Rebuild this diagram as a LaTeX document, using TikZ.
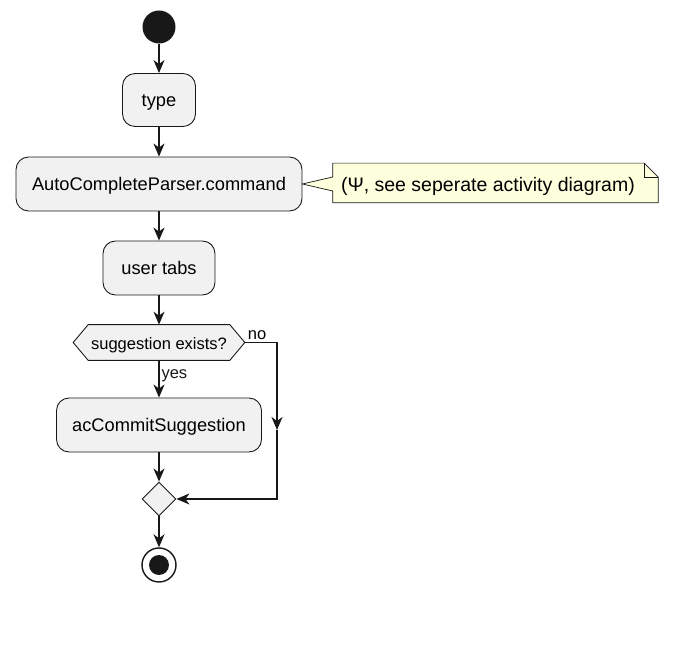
\documentclass[tikz,border=0pt]{standalone}
\usepackage{fontspec}
\setmainfont{Liberation Sans}
\usepackage{xcolor}
\usepackage{tikz}
\usetikzlibrary{arrows.meta,positioning,calc,shapes.geometric}
\definecolor{FlowInk}{HTML}{181818}
\definecolor{ActFill}{HTML}{F1F1F1}
\definecolor{NoteFill}{HTML}{FEFFDD}

\begin{document}
\begin{tikzpicture}[x=0.02cm,y=-0.02cm,>={Stealth[length=0.26cm,width=0.22cm,inset=0.08cm]},
  actbox/.style={draw=FlowInk,line width=0.5pt,fill=ActFill,rounded corners=0.25cm,minimum height=1.08cm,text height=0.95em,text depth=0.2em,font=\fontsize{10.4}{12}\selectfont},
  flow/.style={FlowInk,line width=0.9pt,->},
  smalltxt/.style={font=\fontsize{9.4}{11}\selectfont,inner sep=1pt}]
  \useasboundingbox (0,0) rectangle (687,648);
  \node[circle,fill=FlowInk,minimum size=0.66cm,inner sep=0pt] (start) at (159,27) {};
  \node[actbox,minimum width=1.46cm,minimum height=1.06cm] (type) at (159,100) {type};
  \node[actbox,minimum width=5.72cm] (parse) at (159,184) {AutoCompleteParser.command};
  \node[actbox,minimum width=2.24cm] (tabs) at (159,268) {user tabs};
  \node[minimum width=3.42cm,minimum height=0.7cm,inner sep=0pt] (test) at (159,342.5) {};
  \node[actbox,minimum width=4.1cm] (commit) at (159,425) {acCommitSuggestion};
  \node[diamond,draw=FlowInk,line width=0.5pt,fill=ActFill,minimum size=0.68cm,inner sep=0pt] (merge) at (159,499) {};
  \node[circle,draw=FlowInk,line width=0.8pt,fill=white,minimum size=0.68cm,inner sep=0pt] (stop) at (159,565) {};
  \node[circle,fill=FlowInk,minimum size=0.4cm,inner sep=0pt] at (stop) {};
  % note
  \node[minimum width=6.5cm,minimum height=0.78cm,inner sep=0pt] (note) at (495.5,183) {};
  \filldraw[fill=NoteFill,draw=FlowInk,line width=0.4pt] (note.north west) -- ($(note.north east)+(-14,0)$) -- ($(note.north east)+(0,14)$) -- (note.south east) -- (note.south west) -- ($(note.west)+(0,8)$) -- (parse.east) -- ($(note.west)+(0,-6)$) -- cycle;
  \draw[FlowInk,line width=0.4pt] ($(note.north east)+(-14,0)$) -- ($(note.north east)+(-14,14)$) -- ($(note.north east)+(0,14)$);
  \node[anchor=west,inner sep=0pt,text height=0.95em,text depth=0.2em,font=\fontsize{11.1}{13}\selectfont] at ($(note.west)+(8,2)$) {(Ψ, see seperate activity diagram)};
  % hexagon
  \filldraw[fill=ActFill,draw=FlowInk,line width=0.5pt] (test.west) -- ($(test.north west)+(15,0)$) -- ($(test.north east)+(-15,0)$) -- (test.east) -- ($(test.south east)+(-15,0)$) -- ($(test.south west)+(15,0)$) -- cycle;
  \node[text height=0.95em,text depth=0.2em,font=\fontsize{9.4}{11}\selectfont] at (test) {suggestion exists?};
  % connectors
  \coordinate (nocorner) at (277,342.5);
  \coordinate (nomid) at (277,430);
  \coordinate (nojoin) at (277,499);
  \draw[flow] (start) -- (type);
  \draw[flow] (type) -- (parse);
  \draw[flow] (parse) -- (tabs);
  \draw[flow] (tabs) -- (test);
  \draw[flow] (test) -- node[smalltxt,right,pos=0.42] {yes} (commit);
  \draw[flow] (commit) -- (merge);
  \draw[flow] (test.east) -- (nocorner) -- (nomid);
  \draw[flow] (nomid) -- (nojoin) -- (merge.east);
  \draw[flow] (merge) -- (stop);
  \node[smalltxt,anchor=south west] at ($(test.east)+(1,-1)$) {no};
\end{tikzpicture}
\end{document}
